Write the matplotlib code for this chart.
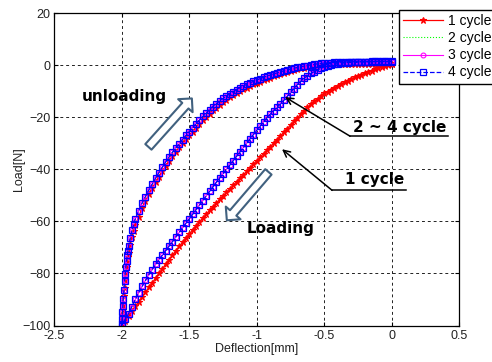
import numpy as np
import matplotlib
matplotlib.use("Agg")
from matplotlib import pyplot as plt
from matplotlib.patches import FancyArrowPatch

plt.rcParams['font.family'] = ['Liberation Sans', 'DejaVu Sans']

# loading branch deflection (0 -> -2 mm)
load_x = [0.000, -0.025, -0.050, -0.075, -0.100, -0.125, -0.150, -0.175, -0.200, -0.225,
          -0.250, -0.275, -0.300, -0.325, -0.350, -0.375, -0.400, -0.425, -0.450, -0.475,
          -0.500, -0.525, -0.550, -0.575, -0.600, -0.625, -0.650, -0.675, -0.700, -0.725,
          -0.750, -0.775, -0.800, -0.825, -0.850, -0.875, -0.900, -0.925, -0.950, -0.975,
          -1.000, -1.025, -1.050, -1.075, -1.100, -1.125, -1.150, -1.175, -1.200, -1.225,
          -1.250, -1.275, -1.300, -1.325, -1.350, -1.375, -1.400, -1.425, -1.450, -1.475,
          -1.500, -1.525, -1.550, -1.575, -1.600, -1.625, -1.650, -1.675, -1.700, -1.725,
          -1.750, -1.775, -1.800, -1.825, -1.850, -1.875, -1.900, -1.925, -1.950, -1.975,
          -2.000]
c1_load_y = [0.5, 0.1, -0.3, -0.75, -1.2, -1.65, -2.1, -2.6, -3.1, -3.65,
             -4.2, -4.75, -5.3, -5.95, -6.6, -7.25, -7.9, -8.65, -9.4, -10.15,
             -10.9, -11.9, -12.9, -13.95, -15.0, -16.25, -17.5, -18.9, -20.3, -21.65,
             -23.0, -24.4, -25.8, -27.2, -28.6, -29.95, -31.3, -32.65, -34.0, -35.35,
             -36.7, -38.05, -39.4, -40.75, -42.1, -43.45, -44.8, -46.15, -47.5, -48.85,
             -50.2, -51.6, -53.0, -54.4, -55.8, -57.25, -58.7, -60.2, -61.7, -63.25,
             -64.8, -66.4, -68.0, -69.65, -71.3, -73.0, -74.7, -76.45, -78.2, -80.0,
             -81.8, -83.6, -85.4, -87.2, -89.0, -90.8, -92.6, -94.45, -96.3, -98.15,
             -100.0]
c24_load_y = [1.5, 1.5, 1.5, 1.5, 1.5, 1.45, 1.4, 1.35, 1.3, 1.25,
              1.2, 1.15, 1.1, 1.0, 0.9, 0.75, 0.6, 0.35, 0.1, -0.3,
              -0.7, -1.2, -1.8, -2.5, -3.2, -4.1, -5.0, -6.2, -7.5, -9.0,
              -10.5, -12.0, -13.5, -14.85, -16.2, -17.5, -18.8, -20.3, -21.8, -23.4,
              -25.0, -26.65, -28.3, -30.0, -31.7, -33.35, -35.0, -36.7, -38.4, -40.05,
              -41.7, -43.35, -45.0, -46.75, -48.5, -50.25, -52.0, -53.75, -55.5, -57.25,
              -59.0, -60.75, -62.5, -64.25, -66.0, -67.75, -69.5, -71.25, -73.0, -74.75,
              -76.5, -78.5, -80.5, -82.7, -85.0, -87.4, -90.0, -92.7, -95.5, -97.6,
              -99.5]

# unloading branch deflection (-2 -> 0 mm)
unl_x = [-2.000, -1.9975, -1.995, -1.9925, -1.990, -1.985, -1.980, -1.975, -1.970, -1.965,
         -1.960, -1.955, -1.950, -1.9375, -1.925, -1.9125, -1.900, -1.875,
         -1.850, -1.825, -1.800, -1.775, -1.750, -1.725, -1.700, -1.675, -1.650, -1.625,
         -1.600, -1.575, -1.550, -1.525, -1.500, -1.475, -1.450, -1.425, -1.400, -1.375,
         -1.350, -1.325, -1.300, -1.275, -1.250, -1.225, -1.200, -1.175, -1.150, -1.125,
         -1.100, -1.075, -1.050, -1.025, -1.000, -0.975, -0.950, -0.925, -0.900, -0.875,
         -0.850, -0.825, -0.800, -0.775, -0.750, -0.725, -0.700, -0.675, -0.650, -0.625,
         -0.600, -0.575, -0.550, -0.525, -0.500, -0.475, -0.450, -0.425, -0.400, -0.375,
         -0.350, -0.325, -0.300, -0.275, -0.250, -0.225, -0.200, -0.175, -0.150, -0.125,
         -0.100, -0.075, -0.050, -0.025, 0.000]
c1_unl_y = [-100, -98, -96, -94, -92, -88.8, -85.5, -82.7, -80, -77.7,
            -75.5, -73.7, -72, -69, -66, -63.7, -61.5, -58.2,
            -55, -52.2, -49.5, -47.2, -45, -42.8, -40.7, -38.7, -36.8, -35.0,
            -33.2, -31.6, -30.0, -28.5, -27.0, -25.5, -24.0, -22.6, -21.2, -19.9,
            -18.6, -17.4, -16.3, -15.2, -14.2, -13.3, -12.4, -11.6, -10.8, -10.0,
            -9.3, -8.6, -8.0, -7.4, -6.8, -6.3, -5.8, -5.3, -4.8, -4.35,
            -3.9, -3.5, -3.1, -2.7, -2.3, -1.95, -1.6, -1.3, -1.0, -0.75,
            -0.5, -0.3, -0.1, 0.05, 0.2, 0.3, 0.4, 0.45, 0.5, 0.5,
            0.5, 0.5, 0.5, 0.5, 0.5, 0.5, 0.5, 0.5, 0.5, 0.5,
            0.5, 0.5, 0.5, 0.5, 0.5]
c24_unl_y = [-100, -97.5, -95, -92.5, -90, -86.5, -83, -80.2, -77.5, -75.2,
             -73, -71.2, -69.5, -66.5, -63.5, -61.2, -59, -56,
             -53, -50.5, -48, -45.7, -43.5, -41.3, -39.2, -37.2, -35.3, -33.5,
             -31.8, -30.2, -28.6, -27.0, -25.5, -24.0, -22.5, -21.1, -19.7, -18.4,
             -17.1, -15.9, -14.8, -13.8, -12.8, -11.9, -11.0, -10.2, -9.4, -8.7,
             -8.0, -7.4, -6.8, -6.25, -5.7, -5.2, -4.7, -4.25, -3.8, -3.4,
             -3.0, -2.6, -2.2, -1.85, -1.5, -1.2, -0.9, -0.65, -0.4, -0.15,
             0.1, 0.3, 0.5, 0.65, 0.8, 0.9, 1.0, 1.05, 1.1, 1.15,
             1.2, 1.25, 1.3, 1.3, 1.3, 1.3, 1.3, 1.3, 1.3, 1.3,
             1.3, 1.3, 1.3, 1.3, 1.3]

labels = ['1 cycle', '2 cycle', '3 cycle', '4 cycle']
xticks = [-2.5, -2, -1.5, -1, -0.5, 0, 0.5]
xticklabels = ['-2.5', '-2', '-1.5', '-1', '-0.5', '0', '0.5']
yticks = [-100, -80, -60, -40, -20, 0, 20]

fig = plt.figure(figsize=(4.92, 3.62), dpi=100)
ax = fig.add_axes([0.1104, 0.1008, 0.8231, 0.8632])

x1 = load_x + unl_x
y1 = c1_load_y + c1_unl_y
y24 = c24_load_y + c24_unl_y

ax.plot(x1, y1, color='#ff0000', lw=0.9, marker='*', ms=4.5, mew=0.8, label=labels[0])
ax.plot(x1, y24, color='#00ff00', lw=0.8, ls=':', label=labels[1])
ax.plot(x1, y24, color='#ff00ff', lw=0.8, marker='o', ms=3.5, mfc='none', mew=0.8, label=labels[2])
ax.plot(x1, y24, color='#0000ff', lw=0.9, ls='--', marker='s', ms=4.2, mfc='none', mew=0.9, label=labels[3])

ax.set_xlim(-2.5, 0.5)
ax.set_ylim(-100, 20)
ax.set_xticks(xticks)
ax.set_xticklabels(xticklabels)
ax.set_yticks(yticks)
ax.tick_params(direction='in', length=3, labelsize=9, top=True, right=True,
               labelcolor='#222222', pad=3)
ax.grid(True, color='#222222', linestyle=(0, (3, 3)), lw=0.7)
for s in ax.spines.values():
    s.set_linewidth(0.9)
ax.set_xlabel('Deflection[mm]', fontsize=9, color='#222222', labelpad=1)
ax.set_ylabel('Load[N]', fontsize=9, color='#222222', labelpad=-2)

leg = ax.legend(loc='upper left', bbox_to_anchor=(0.811, 0.972), bbox_transform=fig.transFigure,
                fontsize=10, handlelength=2.9, numpoints=1, fancybox=False, framealpha=1,
                edgecolor='black', borderaxespad=0, borderpad=0.3, labelspacing=0.22,
                handletextpad=0.3)
leg.get_frame().set_linewidth(1.0)

# annotations
tfont = dict(family='DejaVu Sans', fontweight='bold', fontsize=11, color='black')
ax.text(-1.98, -12.0, 'unloading', ha='center', va='center', **tfont)
ax.text(-0.824, -62.8, 'Loading', ha='center', va='center', **tfont)
ax.text(0.062, -24.0, '2 ~ 4 cycle', ha='center', va='center', **tfont)
ax.text(-0.124, -44.0, '1 cycle', ha='center', va='center', **tfont)

lcol = '#41617f'
for tail, tip in [((-1.803, -31.4), (-1.481, -12.8)), ((-0.914, -41.0), (-1.222, -59.6))]:
    ax.add_patch(FancyArrowPatch(tail, tip, arrowstyle='simple,head_length=7,head_width=14,tail_width=6',
                                 mutation_scale=1, shrinkA=0, shrinkB=0, fc='white', ec=lcol, lw=1.5,
                                 zorder=5))

for start, tip, end in [((-0.309, -27.3), (-0.790, -12.3), (0.417, -27.3)),
                        ((-0.442, -48.1), (-0.813, -32.3), (0.105, -48.1))]:
    ax.annotate('', xy=tip, xytext=start,
                arrowprops=dict(arrowstyle='->', color='black', lw=1.1, shrinkA=0, shrinkB=0,
                                mutation_scale=12))
    ax.plot([start[0], end[0]], [start[1], end[1]], color='black', lw=1.1, clip_on=False)

fig.savefig('out.png', dpi=100)
